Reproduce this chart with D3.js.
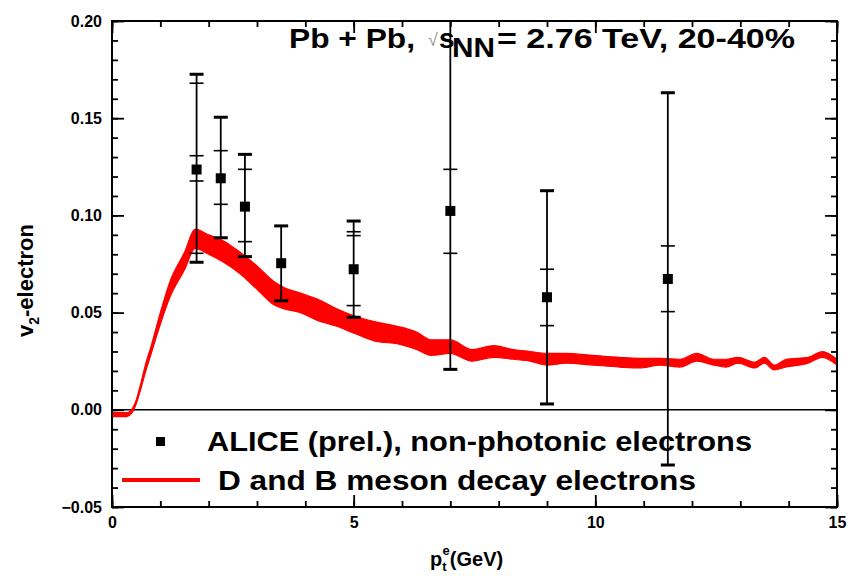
<!DOCTYPE html><meta charset="utf-8">
<html>
<head>
<title>v2 electrons</title>
<script src="https://cdn.jsdelivr.net/npm/d3@7"></script>
<style>
  body { margin: 0; background: #fff; }
  text { font-family: "Liberation Sans", Arial, sans-serif; font-weight: bold; }
</style>
</head>
<body>
<svg id="viz"></svg>
<script>
// ALICE (prel.) non-photonic electron v2, 20-40%
var ptX   = [1.75, 2.25, 2.75, 3.5, 5.0, 7.0, 9.0, 11.5];
var ptV2  = [0.1236, 0.1191, 0.1045, 0.0754, 0.0723, 0.1023, 0.0579, 0.0673];
// outer error bars (thick caps)
var errOutLo = [0.0759, 0.0885, 0.0788, 0.0561, 0.0476, 0.0208, 0.0030, -0.0284];
var errOutHi = [0.1726, 0.1505, 0.1314, 0.0946, 0.0971, 0.2150, 0.1127, 0.1631];
// inner error bars (thin caps)
var errInLo = [0.1177, 0.1057, 0.0865, null, 0.0536, 0.0805, 0.0433, 0.0505];
var errInHi = [0.1307, 0.1333, 0.1237, null, 0.0896, 0.1237, 0.0723, 0.0843];
// extra thin caps
var errMidLo = [0.0805, null, null, null, null, null, null, null];
var errMidHi = [0.1680, null, null, null, 0.0916, null, null, null];

// D and B meson decay electrons, band
var thX  = [0, 0.3, 0.4, 0.5, 0.6, 0.7, 0.8, 1.0, 1.2, 1.5, 1.72, 2.0, 2.3, 2.65, 3.0, 3.35, 3.55, 3.9, 4.25, 4.65, 5.05, 5.5, 5.9, 6.3, 6.6, 7.0, 7.45, 7.9, 8.3, 8.65, 9.0, 9.4, 9.95, 10.5, 10.9, 11.35, 11.75, 12.1, 12.45, 12.7, 12.95, 13.3, 13.5, 13.7, 13.95, 14.4, 14.7, 15.0];
var thLo = [-0.0035, -0.0035, -0.002, 0.003, 0.011, 0.020, 0.028, 0.044, 0.058, 0.072, 0.083, 0.080, 0.076, 0.070, 0.062, 0.054, 0.052, 0.050, 0.046, 0.043, 0.039, 0.035, 0.034, 0.031, 0.028, 0.029, 0.025, 0.027, 0.026, 0.025, 0.023, 0.024, 0.023, 0.022, 0.0215, 0.023, 0.022, 0.025, 0.023, 0.022, 0.024, 0.0215, 0.024, 0.0205, 0.022, 0.024, 0.027, 0.023];
var thHi = [-0.0015, -0.0015, 0.000, 0.005, 0.014, 0.024, 0.032, 0.050, 0.066, 0.081, 0.093, 0.090, 0.087, 0.081, 0.074, 0.066, 0.063, 0.060, 0.057, 0.052, 0.048, 0.045, 0.043, 0.040, 0.036, 0.036, 0.031, 0.033, 0.031, 0.030, 0.029, 0.029, 0.028, 0.027, 0.0265, 0.0265, 0.026, 0.029, 0.026, 0.026, 0.027, 0.0245, 0.027, 0.023, 0.026, 0.027, 0.030, 0.026];

var xTicks = [0, 5, 10, 15];
var yTicks = [-0.05, 0.00, 0.05, 0.10, 0.15, 0.20];
var legendLabels = ["ALICE (prel.), non-photonic electrons", "D and B meson decay electrons"];

var width = 851, height = 582;
var pLeft = 112, pRight = 837, pTop = 21, pBottom = 507;

var svg = d3.select("#viz").attr("width", width).attr("height", height);

var x = d3.scaleLinear().domain([0, 15]).range([pLeft, pRight]);
var y = d3.scaleLinear().domain([-0.05, 0.20]).range([pBottom, pTop]);

svg.append("defs").append("clipPath").attr("id", "plotclip")
    .append("rect").attr("x", pLeft).attr("y", pTop)
    .attr("width", pRight - pLeft).attr("height", pBottom - pTop);

var plot = svg.append("g").attr("clip-path", "url(#plotclip)");

// zero line
plot.append("line")
    .attr("x1", pLeft).attr("x2", pRight)
    .attr("y1", y(0)).attr("y2", y(0))
    .attr("stroke", "#000").attr("stroke-width", 1.5);

// theory band
var band = d3.area()
    .x(function(d, i) { return x(thX[i]); })
    .y0(function(d, i) { return y(thLo[i]); })
    .y1(function(d, i) { return y(thHi[i]); })
    .curve(d3.curveMonotoneX);

plot.append("path")
    .datum(thX)
    .attr("d", band)
    .attr("fill", "#ff0000")
    .attr("stroke", "#ff0000")
    .attr("stroke-width", 1.2)
    .attr("stroke-linejoin", "round");

// data points with error bars
var pts = plot.append("g").selectAll("g")
    .data(ptX)
    .enter().append("g");

pts.append("line")
    .attr("x1", function(d) { return x(d); })
    .attr("x2", function(d) { return x(d); })
    .attr("y1", function(d, i) { return y(errOutLo[i]); })
    .attr("y2", function(d, i) { return y(errOutHi[i]); })
    .attr("stroke", "#000").attr("stroke-width", 1.8);

function caps(arr, w) {
    pts.filter(function(d, i) { return arr[i] != null; })
        .append("line")
        .attr("x1", function(d) { return x(d) - 7; })
        .attr("x2", function(d) { return x(d) + 7; })
        .attr("y1", function(d) { return y(arr[ptX.indexOf(d)]); })
        .attr("y2", function(d) { return y(arr[ptX.indexOf(d)]); })
        .attr("stroke", "#000").attr("stroke-width", w);
}
caps(errOutLo, 3);
caps(errOutHi, 3);
caps(errInLo, 1.6);
caps(errInHi, 1.6);
caps(errMidLo, 1.6);
caps(errMidHi, 1.6);

pts.append("rect")
    .attr("x", function(d) { return x(d) - 5; })
    .attr("y", function(d, i) { return y(ptV2[i]) - 5; })
    .attr("width", 10).attr("height", 10)
    .attr("fill", "#000");

// axes: ticks pointing inward, majors and minors
function styleAxis(g) {
    g.select(".domain").remove();
    g.selectAll(".tick line").attr("stroke", "#000").attr("stroke-width", 1.8);
    g.selectAll("text").attr("fill", "#000").attr("font-size", null)
        .style("font-size", "16px")
        .style("font-family", "'Liberation Sans', Arial, sans-serif").style("font-weight", "bold");
}

svg.append("g").attr("transform", "translate(0," + pBottom + ")")
    .call(d3.axisBottom(x).tickValues(xTicks).tickFormat(d3.format("d"))
        .tickSizeInner(-12).tickSizeOuter(0).tickPadding(10))
    .call(styleAxis);
svg.append("g").attr("transform", "translate(0," + pBottom + ")")
    .call(d3.axisBottom(x).tickValues(d3.range(0, 16)).tickFormat("")
        .tickSizeInner(-6).tickSizeOuter(0))
    .call(styleAxis);
svg.append("g").attr("transform", "translate(0," + pTop + ")")
    .call(d3.axisTop(x).tickValues(xTicks).tickFormat("")
        .tickSizeInner(-12).tickSizeOuter(0))
    .call(styleAxis);
svg.append("g").attr("transform", "translate(0," + pTop + ")")
    .call(d3.axisTop(x).tickValues(d3.range(0, 16)).tickFormat("")
        .tickSizeInner(-6).tickSizeOuter(0))
    .call(styleAxis);

var yMinor = d3.range(-5, 21).map(function(k) { return k / 100; });
svg.append("g").attr("transform", "translate(" + pLeft + ",0)")
    .call(d3.axisLeft(y).tickValues(yTicks).tickFormat(d3.format(".2f"))
        .tickSizeInner(-12).tickSizeOuter(0).tickPadding(10))
    .call(styleAxis);
svg.append("g").attr("transform", "translate(" + pLeft + ",0)")
    .call(d3.axisLeft(y).tickValues(yMinor).tickFormat("")
        .tickSizeInner(-6).tickSizeOuter(0))
    .call(styleAxis);
svg.append("g").attr("transform", "translate(" + pRight + ",0)")
    .call(d3.axisRight(y).tickValues(yTicks).tickFormat("")
        .tickSizeInner(-12).tickSizeOuter(0))
    .call(styleAxis);
svg.append("g").attr("transform", "translate(" + pRight + ",0)")
    .call(d3.axisRight(y).tickValues(yMinor).tickFormat("")
        .tickSizeInner(-6).tickSizeOuter(0))
    .call(styleAxis);

// frame
svg.append("rect")
    .attr("x", pLeft).attr("y", pTop)
    .attr("width", pRight - pLeft).attr("height", pBottom - pTop)
    .attr("fill", "none").attr("stroke", "#000").attr("stroke-width", 2);

// title
var title = svg.append("g").style("font-size", "28px");
title.append("text").attr("x", 289).attr("y", 48)
    .attr("textLength", 126).attr("lengthAdjust", "spacingAndGlyphs").text("Pb + Pb,");
title.append("text").attr("x", 428).attr("y", 46)
    .style("font-size", "18px").style("font-weight", "normal").attr("fill", "#999").text("\u221A");
title.append("text").attr("x", 439).attr("y", 48).text("s");
title.append("text").attr("x", 452).attr("y", 57)
    .attr("textLength", 43).attr("lengthAdjust", "spacingAndGlyphs").text("NN");
title.append("text").attr("x", 497).attr("y", 48)
    .attr("textLength", 298).attr("lengthAdjust", "spacingAndGlyphs").text("= 2.76 TeV, 20-40%");

// legend
var leg = svg.append("g").style("font-size", "28px");
leg.append("rect").attr("x", 156).attr("y", 437).attr("width", 9).attr("height", 9).attr("fill", "#000");
leg.append("text").attr("x", 207).attr("y", 451)
    .attr("textLength", 545).attr("lengthAdjust", "spacingAndGlyphs").text(legendLabels[0]);
leg.append("line").attr("x1", 122).attr("x2", 200).attr("y1", 480).attr("y2", 480)
    .attr("stroke", "#ff0000").attr("stroke-width", 4);
leg.append("text").attr("x", 218).attr("y", 490)
    .attr("textLength", 478).attr("lengthAdjust", "spacingAndGlyphs").text(legendLabels[1]);

// axis titles
var xt = svg.append("text").attr("x", 430).attr("y", 566).style("font-size", "20px");
xt.append("tspan").text("p");
xt.append("tspan").attr("dy", 5).style("font-size", "13px").text("t");
xt.append("tspan").attr("dy", -16).attr("dx", -4).style("font-size", "13px").text("e");
xt.append("tspan").attr("dy", 11).text("(GeV)");

var yt = svg.append("text")
    .attr("transform", "translate(33,337) rotate(-90)")
    .style("font-size", "22px");
yt.append("tspan").text("v");
yt.append("tspan").attr("dy", 6).style("font-size", "14px").text("2");
yt.append("tspan").attr("dy", -6).text("-electron");
</script>
</body>
</html>
